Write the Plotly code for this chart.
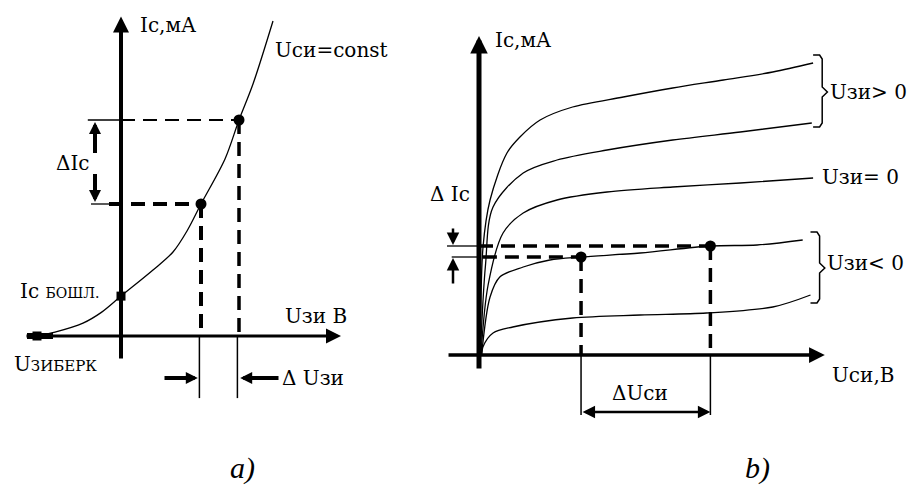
import plotly.graph_objects as go

# ---------- a) transfer characteristic Ic = f(Uзи) at Uси = const ----------
u_zi = [-2.1, -1.65, -0.95, -0.5, 0.0, 0.8, 1.3, 1.65, 2.0, 2.6, 2.95, 3.3, 3.8]
i_c_transfer = [0.0, 0.13, 0.43, 0.78, 1.33, 2.2, 2.8, 3.5, 4.4, 5.9, 7.2, 8.4, 10.5]
u_zi_cutoff = -2.1
i_c_initial = 1.33
u_zi_marks = [2.0, 2.95]
i_c_marks = [4.4, 7.2]

# ---------- b) output characteristics Ic = f(Uси) ----------
u_si_curves = [
    [0.1, 0.31, 0.85, 2.15, 3.15, 4.7, 7.2, 11.1, 14.9, 18.8, 22.6, 25.7],
    [0.1, 0.5, 1.08, 3.4, 6.0, 9.85, 14.9, 20.1, 25.6],
    [0.15, 0.7, 1.85, 3.4, 6.0, 9.85, 14.9, 20.1, 25.7],
    [0.2, 0.85, 1.6, 3.4, 5.45, 7.85, 12.4, 17.8, 21.4, 24.9],
    [0.2, 0.3, 1.08, 2.6, 7.2, 12.4, 17.5, 22.6, 25.5],
]
i_c_curves = [
    [0.0, 5.4, 7.75, 10.1, 10.9, 11.75, 12.4, 12.9, 13.35, 13.75, 14.15, 14.6],
    [0.0, 4.5, 7.4, 9.1, 9.75, 10.25, 10.75, 11.15, 11.6],
    [0.0, 3.5, 6.1, 7.1, 7.75, 8.15, 8.4, 8.6, 8.85],
    [0.0, 2.9, 3.9, 4.4, 4.75, 4.9, 5.1, 5.45, 5.5, 5.75],
    [0.0, 0.4, 1.1, 1.4, 1.85, 2.0, 2.1, 2.4, 3.0],
]
u_si_marks = [7.85, 17.8]
i_c_out_marks = [4.9, 5.45]

W, H = 908, 490
INK = "black"
SERIF = "DejaVu Serif"
REFS = {"a": ("x", "y"), "b": ("x2", "y2")}

fig = go.Figure()


def line(xs, ys, panel, width=1.5, dash="solid", shape="linear"):
    xa, ya = REFS[panel]
    fig.add_trace(go.Scatter(
        x=xs, y=ys, xaxis=xa, yaxis=ya, mode="lines",
        line=dict(color=INK, width=width, dash=dash, shape=shape, smoothing=0.9),
        hoverinfo="skip", showlegend=False))


def dots(xs, ys, panel, symbol="circle", size=10):
    xa, ya = REFS[panel]
    fig.add_trace(go.Scatter(
        x=xs, y=ys, xaxis=xa, yaxis=ya, mode="markers",
        marker=dict(color=INK, symbol=symbol, size=size),
        hoverinfo="skip", showlegend=False))


def arrow(tip, tail, panel, width=3, head=2, size=1.0, side="end"):
    xr, yr = REFS[panel]
    fig.add_annotation(
        x=tip[0], y=tip[1], ax=tail[0], ay=tail[1],
        xref=xr, yref=yr, axref=xr, ayref=yr, text="",
        showarrow=True, arrowhead=head, arrowsize=size, arrowwidth=width,
        arrowcolor=INK, arrowside=side, standoff=0, startstandoff=0)


def label(x, y, text, panel, size=20, anchor="left", family=SERIF):
    xr, yr = REFS[panel]
    fig.add_annotation(
        x=x, y=y, xref=xr, yref=yr, text=text, showarrow=False,
        xanchor=anchor, yanchor="middle",
        font=dict(family=family, size=size, color=INK))


# ===== panel a =====
# axes
arrow((0, 10.65), (0, -0.8), "a", width=4, size=0.8)
arrow((5.5, 0), (-2.4, 0), "a", width=3, size=1.0)
line([-2.35, -1.7], [0, 0], "a", width=6)

# characteristic curve and its marked points
line(u_zi, i_c_transfer, "a", width=1.3, shape="spline")
dots([u_zi_cutoff], [0], "a", symbol="square", size=9)
dots([0], [i_c_initial], "a", symbol="square", size=9)
dots(u_zi_marks, i_c_marks, "a", symbol="circle", size=11)

# projections of the two working points
line([-0.83, 0], [i_c_marks[1]] * 2, "a", width=1.3)
line([0, u_zi_marks[1]], [i_c_marks[1]] * 2, "a", width=2, dash="14px,8px")
line([-0.75, -0.3], [i_c_marks[0]] * 2, "a", width=1.3)
line([-0.3, u_zi_marks[0]], [i_c_marks[0]] * 2, "a", width=4, dash="14px,8px")
line([u_zi_marks[0]] * 2, [i_c_marks[0], 0], "a", width=4, dash="14px,8px")
line([u_zi_marks[1]] * 2, [i_c_marks[1], 0], "a", width=3.5, dash="14px,8px")
for u in u_zi_marks:
    line([u - 0.04] * 2, [0, -2.07], "a", width=1.5)

# ΔUзи and ΔIс arrows
arrow((u_zi_marks[0] - 0.08, -1.4), (1.05, -1.4), "a", width=4, size=0.6)
arrow((u_zi_marks[1] + 0.03, -1.4), (3.975, -1.4), "a", width=4, size=0.6)
arrow((-0.65, i_c_marks[1] - 0.07), (-0.65, 6.05), "a", width=4, size=0.6)
arrow((-0.65, i_c_marks[0] + 0.07), (-0.65, 5.45), "a", width=4, size=0.6)

# labels
label(0.43, 10.37, "Iс,мА", "a")
label(3.8, 9.53, "Uси=const", "a")
label(-0.72, 5.77, "ΔIс", "a", anchor="right")
label(-2.58, 1.5, "Iс <span style='font-size:14px'>БОШЛ.</span>", "a")
label(4.05, 0.67, "Uзи В", "a")
label(-2.73, -0.93, "U<span style='font-size:15px'>ЗИБЕРК</span>", "a")
label(3.97, -1.4, "Δ Uзи", "a")
label(3.03, -4.4, "<i>a)</i>", "a", size=30, anchor="center", family="Liberation Serif")

# ===== panel b =====
# axes
arrow((0, 15.95), (0, -0.75), "b", width=5, size=0.7)
arrow((26.6, 0), (-2.46, 0), "b", width=3.5, size=0.9)

# family of output curves
for xs, ys in zip(u_si_curves, i_c_curves):
    line(xs, ys, "b", width=1.3, shape="spline")

# working points and their projections
dots(u_si_marks, i_c_out_marks, "b", size=11)
line([-2.46, 0], [i_c_out_marks[1]] * 2, "b", width=1.3)
line([-2.1, 0], [i_c_out_marks[0]] * 2, "b", width=1.3)
line([0, u_si_marks[1]], [i_c_out_marks[1]] * 2, "b", width=3.5, dash="14px,8px")
line([0.3, u_si_marks[0]], [i_c_out_marks[0]] * 2, "b", width=3.5, dash="14px,8px")
for u, i in zip(u_si_marks, i_c_out_marks):
    line([u, u], [i, 0], "b", width=3.5, dash="14px,8px")
    line([u, u], [0, -3.0], "b", width=1.5)

# ΔUси double arrow and ΔIс arrows
arrow((u_si_marks[1], -2.85), (u_si_marks[0], -2.85), "b", width=2.5, size=1.0, side="end+start")
arrow((-2.0, i_c_out_marks[1] + 0.05), (-2.0, 6.4), "b", width=2.5, size=1.0)
arrow((-2.0, i_c_out_marks[0] - 0.05), (-2.0, 3.5), "b", width=2.5, size=1.0)

# braces grouping the curves
line([25.7, 26.2, 26.4, 26.4, 26.8, 26.4, 26.4, 26.2, 25.7],
     [15.0, 15.0, 14.8, 13.4, 13.15, 12.9, 11.6, 11.4, 11.4], "b", width=1.5)
line([25.5, 26.0, 26.2, 26.2, 26.6, 26.2, 26.2, 26.0, 25.5],
     [6.15, 6.15, 5.95, 4.6, 4.35, 4.1, 2.8, 2.6, 2.6], "b", width=1.5)

# labels
label(1.08, 15.75, "Iс,мА", "b")
label(-3.9, 8.05, "Δ Iс", "b")
label(26.85, 13.15, "Uзи> 0", "b")
label(26.2, 8.9, "Uзи= 0", "b")
label(26.6, 4.6, "Uзи< 0", "b")
label(27.0, -1.0, "Uси,В", "b")
label(12.4, -1.9, "ΔUси", "b", anchor="center")
label(21.46, -5.65, "<i>b)</i>", "b", size=30, anchor="center", family="Liberation Serif")

hidden = dict(visible=False, fixedrange=True)
fig.update_layout(
    width=W, height=H,
    margin=dict(l=0, r=0, t=0, b=0),
    paper_bgcolor="white", plot_bgcolor="rgba(0,0,0,0)",
    showlegend=False, hovermode=False,
    xaxis=dict(domain=[0, 1], range=[-121 / 40, (W - 121) / 40], anchor="y", **hidden),
    yaxis=dict(domain=[0, 1], range=[-(H - 336) / 30, 336 / 30], anchor="x", **hidden),
    xaxis2=dict(domain=[0, 1], range=[-479 / 13, (W - 479) / 13], anchor="y2", **hidden),
    yaxis2=dict(domain=[0, 1], range=[-(H - 355) / 20, 355 / 20], anchor="x2", **hidden),
)

fig.write_html("out.html")
